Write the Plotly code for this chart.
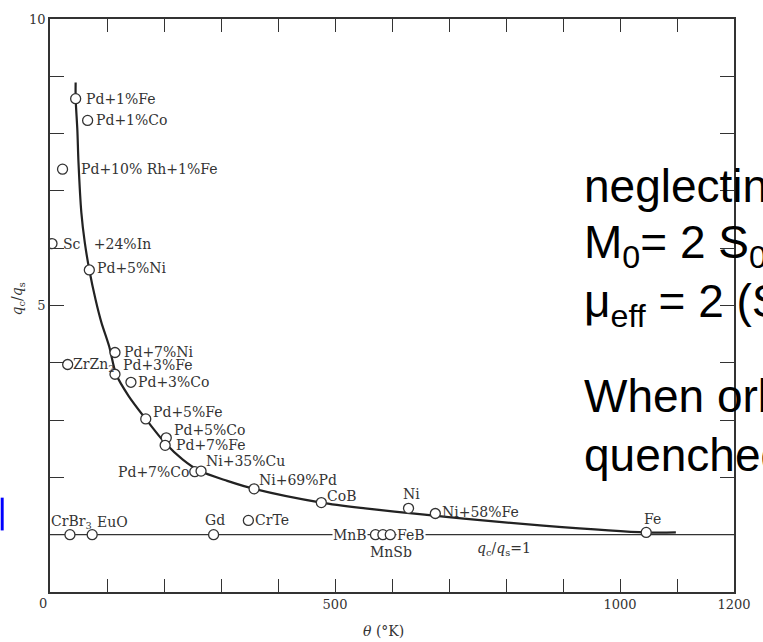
import plotly.graph_objects as go

# ---------------- data ----------------
curve_theta = [45, 45, 48, 50, 55, 61, 69, 80, 90, 104, 116, 138, 168, 202, 233,
               263, 311, 358, 476, 553, 657, 726, 865, 1046, 1098]
curve_ratio = [8.89, 8.61, 8.06, 7.49, 6.62, 6.10, 5.62, 5.10, 4.71, 4.28, 3.80,
               3.42, 3.02, 2.60, 2.31, 2.11, 1.94, 1.80, 1.56, 1.46, 1.35, 1.28,
               1.16, 1.04, 1.04]

names = ["Pd+1%Fe", "Pd+1%Co", "Pd+10% Rh+1%Fe", "Sc\u00a0\u00a0\u00a0+24%In", "Pd+5%Ni",
         "Pd+7%Ni", "ZrZn<sub>2</sub>", "Pd+3%Fe", "Pd+3%Co", "Pd+5%Fe",
         "Pd+5%Co", "Pd+7%Fe", "Pd+7%Co", "Ni+35%Cu", "Ni+69%Pd",
         "CoB", "Ni", "Ni+58%Fe", "CrTe", "Fe",
         "CrBr<sub>3</sub>", "EuO", "Gd", "MnB", "MnSb", "FeB"]
theta = [45, 66, 22, 3.5, 69,
         114, 31, 114, 142, 168,
         204, 202, 254, 265, 358,
         476, 629, 676, 348, 1046,
         35, 74, 287, 571, 584, 597]
ratio = [8.61, 8.23, 7.38, 6.08, 5.62,
         4.18, 3.97, 3.80, 3.66, 3.02,
         2.69, 2.56, 2.10, 2.11, 1.80,
         1.56, 1.46, 1.37, 1.25, 1.04,
         1.0, 1.0, 1.0, 1.0, 1.0, 1.0]

ref_theta = [0, 1200]
ref_ratio = [1, 1]

x_tickvals = [500, 1000, 1200]
x_ticktext = ["500", "1000", "1200"]
y_tickvals = [5, 10]
y_ticktext = ["5", "10"]

# ---------------- styling / layout ----------------
# label placement: (xanchor, dx px, dy px (down positive))
label_place = [("left", 9, 0), ("left", 7, 0), ("left", 17, 0), ("left", 10, 0), ("left", 7, -2),
               ("left", 8, 0), ("left", 4, 0), ("left", 7, -9), ("left", 6, 0), ("left", 6, -7),
               ("left", 7, -8), ("left", 10, 0), ("right", -5, 0), ("left", 4, -10), ("left", 4, -9),
               ("left", 5, -7), ("center", 3, -14), ("left", 6, -2), ("left", 6, 0), ("center", 6, -13),
               ("center", 2, -13), ("left", 4, -13), ("center", 1, -15), ("right", -7, 0), ("center", 8, 17),
               ("left", 6, 0)]
white_bg = {"MnB", "FeB"}

W, H = 763, 642
L, R, T, B = 50, 744, 15, 592
INK = "#333333"
SERIF = "DejaVu Serif"
SANS = "Liberation Sans, Arial"


def px(p):
    return (p - L) / (R - L)


def py(p):
    return (B - p) / (B - T)


fig = go.Figure()
fig.add_trace(go.Scatter(x=ref_theta, y=ref_ratio, mode="lines",
                         line=dict(color=INK, width=1.3), hoverinfo="skip"))
fig.add_trace(go.Scatter(x=curve_theta, y=curve_ratio, mode="lines",
                         line=dict(color="#222222", width=2.2, shape="spline", smoothing=0.8),
                         hoverinfo="skip"))
fig.add_trace(go.Scatter(x=theta, y=ratio, mode="markers",
                         marker=dict(symbol="circle", size=10, color="white",
                                     line=dict(color=INK, width=1.3)),
                         hoverinfo="skip"))

ann = []
for name, x, y, (xa, dx, dy) in zip(names, theta, ratio, label_place):
    ann.append(dict(x=x, y=y, xref="x", yref="y", text=name, showarrow=False,
                    xanchor=xa, yanchor="middle", xshift=dx, yshift=-dy,
                    font=dict(family=SERIF, size=14, color=INK),
                    bgcolor="white" if name in white_bg else "rgba(0,0,0,0)",
                    borderpad=0))

ann.append(dict(x=px(511), y=py(549), xref="paper", yref="paper", showarrow=False,
                text="<i>q</i><sub>c</sub>/<i>q</i><sub>s</sub>=1",
                font=dict(family=SERIF, size=14, color=INK), xanchor="center", yanchor="middle"))
ann.append(dict(x=px(388), y=py(631), xref="paper", yref="paper", showarrow=False,
                text="<i>θ</i> (°K)", font=dict(family=SERIF, size=14, color=INK),
                xanchor="center", yanchor="middle"))
ann.append(dict(x=px(18), y=py(297), xref="paper", yref="paper", showarrow=False,
                text="<i>q</i><sub>c</sub>/<i>q</i><sub>s</sub>", textangle=-90,
                font=dict(family=SERIF, size=14, color=INK),
                xanchor="center", yanchor="middle"))
ann.append(dict(x=px(43), y=py(604), xref="paper", yref="paper", showarrow=False,
                text="0", font=dict(family=SERIF, size=13, color=INK),
                xanchor="center", yanchor="middle"))

overlay = [("neglecting orbital contribution", 183),
           ("M<sub>0</sub>= 2 S<sub>0</sub> μ<sub>B</sub>", 243),
           ("μ<sub>eff</sub> = 2 (S(S+1))<sup>1/2</sup> μ<sub>B</sub>", 299),
           ("When orbital moment is", 395),
           ("quenched", 454)]
for txt, yc in overlay:
    ann.append(dict(x=px(590), y=py(yc), xref="paper", yref="paper", showarrow=False,
                    text=txt, font=dict(family=SANS, size=46, color="black"),
                    xanchor="left", yanchor="middle"))

tick_common = dict(ticks="inside", tickwidth=1.3, tickcolor=INK,
                   showline=True, linecolor=INK, linewidth=1.5, mirror="ticks",
                   showgrid=False, zeroline=False,
                   tickfont=dict(family=SERIF, size=13, color=INK))

fig.update_layout(
    width=W, height=H, autosize=False,
    margin=dict(l=L, r=W - R, t=T, b=H - B),
    paper_bgcolor="white", plot_bgcolor="white",
    showlegend=False,
    annotations=ann,
    shapes=[dict(type="rect", xref="paper", yref="paper",
                 x0=px(0), x1=px(3), y0=py(530), y1=py(497),
                 fillcolor="#0000ff", line=dict(width=0))],
    xaxis=dict(range=[0, 1200], tickvals=x_tickvals, ticktext=x_ticktext, ticklen=13,
               minor=dict(tick0=0, dtick=100, ticks="inside", ticklen=13,
                          tickwidth=1.3, tickcolor=INK, showgrid=False),
               **tick_common),
    yaxis=dict(range=[0, 10], tickvals=y_tickvals, ticktext=y_ticktext, ticklen=14,
               minor=dict(tick0=0, dtick=1, ticks="inside", ticklen=14,
                          tickwidth=1.3, tickcolor=INK, showgrid=False),
               **tick_common),
)

fig.write_html("out.html")
